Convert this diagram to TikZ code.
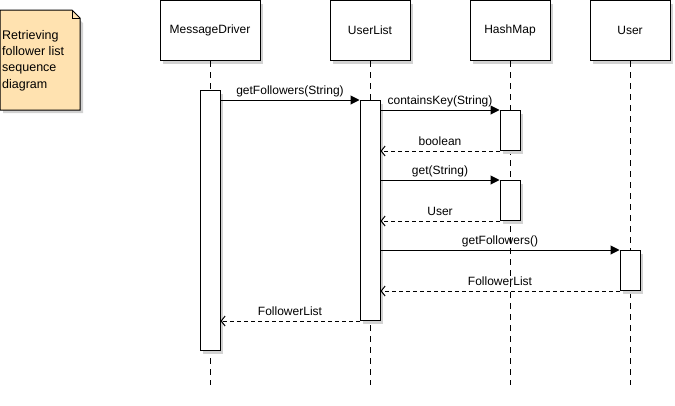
\documentclass[tikz,border=0pt]{standalone}
\usepackage{fontspec}
\setmainfont{Liberation Sans}
\usetikzlibrary{arrows.meta,shadows,calc}
\definecolor{notefill}{RGB}{255,226,176}
\definecolor{shadowgrey}{RGB}{210,210,210}
\tikzset{
  every node/.style={font=\fontsize{12}{15}\selectfont},
  shade3/.style={general shadow={fill=shadowgrey, shadow xshift=3pt, shadow yshift=-3pt}},
  headbox/.style={draw, line width=1pt, fill=white, shade3, minimum height=60pt, inner sep=0pt, anchor=north},
  actbox/.style={draw, line width=1pt, fill=white, shade3, minimum width=20pt, inner sep=0pt, anchor=north},
  lifeline/.style={line width=1pt, dash pattern=on 6pt off 5pt},
  callmsg/.style={line width=1pt, -{Triangle[length=9pt,width=9pt]}},
  retmsg/.style={line width=1pt, dash pattern=on 4pt off 3pt, -{Straight Barb[length=4pt,width=10pt]}},
  msglabel/.style={midway, above, inner sep=2.5pt, text depth=2.6pt}
}
\begin{document}
\begin{tikzpicture}[x=1pt,y=-1pt]
\useasboundingbox (0,0) rectangle (675,405);
% note
\fill[shadowgrey] (3,13) -- (73,13) -- (83,23) -- (83,113) -- (3,113) -- cycle;
\draw[line width=1pt, fill=notefill] (0,10) -- (72,10) -- (80,18) -- (80,110) -- (0,110) -- cycle;
\draw[line width=0.6pt] (72,10) -- (72,18) -- (80,18);
\node[anchor=north west, align=left, inner sep=0pt, font=\fontsize{12.5}{16.3}\selectfont] (note) at (2,30) {Retrieving\\follower list\\sequence\\diagram};
% lifeline heads
\node[headbox, minimum width=100pt] (md) at (210,0) {MessageDriver};
\node[headbox, minimum width=80pt] (ul) at (370,0) {UserList};
\node[headbox, minimum width=80pt] (hm) at (510,0) {HashMap};
\node[headbox, minimum width=80pt] (us) at (630,0) {User};
% lifelines
\coordinate (mdend) at (210,385);
\coordinate (ulend) at (370,385);
\coordinate (hmend) at (510,385);
\coordinate (usend) at (630,385);
\draw[lifeline] (md.south) -- (mdend);
\draw[lifeline] (ul.south) -- (ulend);
\draw[lifeline] (hm.south) -- (hmend);
\draw[lifeline] (us.south) -- (usend);
% activations
\node[actbox, minimum height=260pt] (amd) at (210,90) {};
\node[actbox, minimum height=220pt] (aul) at (370,100) {};
\node[actbox, minimum height=40pt] (ahm1) at (510,110) {};
\node[actbox, minimum height=40pt] (ahm2) at (510,180) {};
\node[actbox, minimum height=40pt] (aus) at (630,250) {};
% messages
\draw[callmsg] (amd.east |- aul.north west) -- (aul.north west) node[msglabel] {getFollowers(String)};
\draw[callmsg] (aul.east |- ahm1.north west) -- (ahm1.north west) node[msglabel] {containsKey(String)};
\draw[retmsg] (ahm1.south west) -- (aul.east |- ahm1.south west) node[msglabel] {boolean};
\draw[callmsg] (aul.east |- ahm2.north west) -- (ahm2.north west) node[msglabel] {get(String)};
\draw[retmsg] (ahm2.south west) -- (aul.east |- ahm2.south west) node[msglabel] {User};
\draw[callmsg] (aul.east |- aus.north west) -- (aus.north west) node[msglabel] {getFollowers()};
\draw[retmsg] (aus.south west) -- (aul.east |- aus.south west) node[msglabel] {FollowerList};
\draw[retmsg] (aul.south west) -- (amd.east |- aul.south west) node[msglabel] {FollowerList};
\end{tikzpicture}
\end{document}
